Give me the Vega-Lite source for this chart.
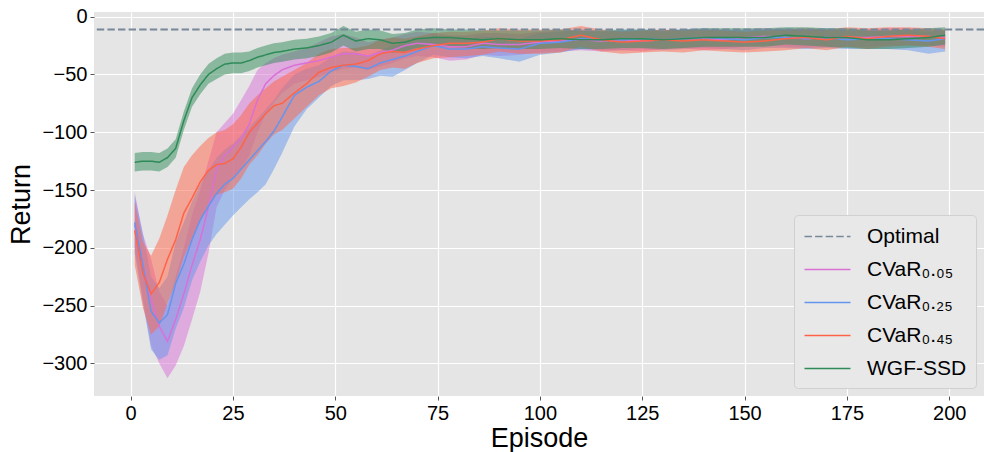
{
  "$schema": "https://vega.github.io/schema/vega-lite/v6.json",
  "width": 890,
  "height": 384,
  "autosize": {"type": "none"},
  "padding": {"left": 94, "top": 12, "right": 0, "bottom": 56},
  "background": "white",
  "config": {
    "view": {"fill": "#E5E5E5", "stroke": null},
    "axis": {
      "grid": true, "gridColor": "white", "gridWidth": 1.2, "domain": false,
      "tickColor": "#555555", "tickSize": 4, "tickWidth": 1,
      "labelFont": "Liberation Sans", "labelFontSize": 20, "labelColor": "#000000", "labelPadding": 3,
      "titleFont": "Liberation Sans", "titleFontSize": 27, "titleFontWeight": "normal", "titleColor": "#000000"
    },
    "legend": {"labelFont": "Liberation Sans"}
  },
  "datasets": {
    "curves": [
      {"s":"CVaR₀.₀₅","e":1,"m":-180,"lo":-200,"hi":-152},
      {"s":"CVaR₀.₀₅","e":3,"m":-215,"lo":-245,"hi":-188},
      {"s":"CVaR₀.₀₅","e":5,"m":-245,"lo":-285,"hi":-210},
      {"s":"CVaR₀.₀₅","e":7,"m":-268,"lo":-300,"hi":-238},
      {"s":"CVaR₀.₀₅","e":9,"m":-281,"lo":-313,"hi":-250},
      {"s":"CVaR₀.₀₅","e":11,"m":-262,"lo":-302,"hi":-225},
      {"s":"CVaR₀.₀₅","e":13,"m":-240,"lo":-285,"hi":-200},
      {"s":"CVaR₀.₀₅","e":15,"m":-215,"lo":-262,"hi":-172},
      {"s":"CVaR₀.₀₅","e":17,"m":-193,"lo":-238,"hi":-150},
      {"s":"CVaR₀.₀₅","e":19,"m":-165,"lo":-205,"hi":-125},
      {"s":"CVaR₀.₀₅","e":21,"m":-132,"lo":-165,"hi":-100},
      {"s":"CVaR₀.₀₅","e":23,"m":-120,"lo":-150,"hi":-92},
      {"s":"CVaR₀.₀₅","e":25,"m":-113,"lo":-140,"hi":-84},
      {"s":"CVaR₀.₀₅","e":27,"m":-105,"lo":-132,"hi":-72},
      {"s":"CVaR₀.₀₅","e":29,"m":-93,"lo":-120,"hi":-60},
      {"s":"CVaR₀.₀₅","e":31,"m":-72,"lo":-100,"hi":-46},
      {"s":"CVaR₀.₀₅","e":33,"m":-58,"lo":-84,"hi":-40},
      {"s":"CVaR₀.₀₅","e":35,"m":-51,"lo":-74,"hi":-36},
      {"s":"CVaR₀.₀₅","e":37,"m":-46,"lo":-66,"hi":-33},
      {"s":"CVaR₀.₀₅","e":40,"m":-42,"lo":-58,"hi":-30},
      {"s":"CVaR₀.₀₅","e":43,"m":-40,"lo":-55,"hi":-27},
      {"s":"CVaR₀.₀₅","e":46,"m":-38,"lo":-52,"hi":-22},
      {"s":"CVaR₀.₀₅","e":49,"m":-35,"lo":-48,"hi":-17},
      {"s":"CVaR₀.₀₅","e":52,"m":-32,"lo":-45,"hi":-15},
      {"s":"CVaR₀.₀₅","e":55,"m":-32,"lo":-44,"hi":-18},
      {"s":"CVaR₀.₀₅","e":58,"m":-34,"lo":-46,"hi":-22},
      {"s":"CVaR₀.₀₅","e":61,"m":-31,"lo":-43,"hi":-20},
      {"s":"CVaR₀.₀₅","e":64,"m":-29,"lo":-40,"hi":-18},
      {"s":"CVaR₀.₀₅","e":67,"m":-25,"lo":-36,"hi":-15},
      {"s":"CVaR₀.₀₅","e":70,"m":-23,"lo":-34,"hi":-13},
      {"s":"CVaR₀.₀₅","e":74,"m":-24,"lo":-35,"hi":-14},
      {"s":"CVaR₀.₀₅","e":78,"m":-26,"lo":-38,"hi":-16},
      {"s":"CVaR₀.₀₅","e":82,"m":-26,"lo":-37,"hi":-16},
      {"s":"CVaR₀.₀₅","e":86,"m":-23,"lo":-33,"hi":-14},
      {"s":"CVaR₀.₀₅","e":90,"m":-24,"lo":-34,"hi":-14},
      {"s":"CVaR₀.₀₅","e":95,"m":-24,"lo":-33,"hi":-15},
      {"s":"CVaR₀.₀₅","e":100,"m":-22,"lo":-31,"hi":-13},
      {"s":"CVaR₀.₀₅","e":105,"m":-21,"lo":-30,"hi":-12},
      {"s":"CVaR₀.₀₅","e":110,"m":-20,"lo":-29,"hi":-12},
      {"s":"CVaR₀.₀₅","e":115,"m":-21,"lo":-30,"hi":-13},
      {"s":"CVaR₀.₀₅","e":120,"m":-20,"lo":-29,"hi":-12},
      {"s":"CVaR₀.₀₅","e":125,"m":-21,"lo":-30,"hi":-12},
      {"s":"CVaR₀.₀₅","e":130,"m":-20,"lo":-28,"hi":-12},
      {"s":"CVaR₀.₀₅","e":135,"m":-19,"lo":-27,"hi":-11},
      {"s":"CVaR₀.₀₅","e":140,"m":-19,"lo":-29,"hi":-11},
      {"s":"CVaR₀.₀₅","e":145,"m":-20,"lo":-28,"hi":-12},
      {"s":"CVaR₀.₀₅","e":150,"m":-18,"lo":-26,"hi":-11},
      {"s":"CVaR₀.₀₅","e":155,"m":-17,"lo":-25,"hi":-10},
      {"s":"CVaR₀.₀₅","e":160,"m":-18,"lo":-26,"hi":-11},
      {"s":"CVaR₀.₀₅","e":165,"m":-19,"lo":-27,"hi":-11},
      {"s":"CVaR₀.₀₅","e":170,"m":-18,"lo":-26,"hi":-11},
      {"s":"CVaR₀.₀₅","e":175,"m":-18,"lo":-26,"hi":-11},
      {"s":"CVaR₀.₀₅","e":180,"m":-18,"lo":-26,"hi":-11},
      {"s":"CVaR₀.₀₅","e":185,"m":-17,"lo":-25,"hi":-10},
      {"s":"CVaR₀.₀₅","e":190,"m":-17,"lo":-25,"hi":-10},
      {"s":"CVaR₀.₀₅","e":195,"m":-17,"lo":-25,"hi":-11},
      {"s":"CVaR₀.₀₅","e":199,"m":-18,"lo":-26,"hi":-12},

      {"s":"CVaR₀.₂₅","e":1,"m":-178,"lo":-205,"hi":-155},
      {"s":"CVaR₀.₂₅","e":3,"m":-215,"lo":-248,"hi":-188},
      {"s":"CVaR₀.₂₅","e":5,"m":-255,"lo":-288,"hi":-225},
      {"s":"CVaR₀.₂₅","e":7,"m":-265,"lo":-297,"hi":-235},
      {"s":"CVaR₀.₂₅","e":9,"m":-258,"lo":-293,"hi":-225},
      {"s":"CVaR₀.₂₅","e":11,"m":-231,"lo":-270,"hi":-195},
      {"s":"CVaR₀.₂₅","e":13,"m":-214,"lo":-252,"hi":-178},
      {"s":"CVaR₀.₂₅","e":15,"m":-193,"lo":-228,"hi":-160},
      {"s":"CVaR₀.₂₅","e":17,"m":-176,"lo":-212,"hi":-145},
      {"s":"CVaR₀.₂₅","e":19,"m":-164,"lo":-198,"hi":-133},
      {"s":"CVaR₀.₂₅","e":21,"m":-153,"lo":-188,"hi":-122},
      {"s":"CVaR₀.₂₅","e":23,"m":-145,"lo":-180,"hi":-115},
      {"s":"CVaR₀.₂₅","e":25,"m":-140,"lo":-172,"hi":-110},
      {"s":"CVaR₀.₂₅","e":27,"m":-132,"lo":-165,"hi":-103},
      {"s":"CVaR₀.₂₅","e":29,"m":-124,"lo":-158,"hi":-96},
      {"s":"CVaR₀.₂₅","e":31,"m":-116,"lo":-152,"hi":-88},
      {"s":"CVaR₀.₂₅","e":33,"m":-108,"lo":-145,"hi":-80},
      {"s":"CVaR₀.₂₅","e":35,"m":-99,"lo":-132,"hi":-72},
      {"s":"CVaR₀.₂₅","e":37,"m":-87,"lo":-118,"hi":-62},
      {"s":"CVaR₀.₂₅","e":40,"m":-68,"lo":-95,"hi":-50},
      {"s":"CVaR₀.₂₅","e":43,"m":-61,"lo":-80,"hi":-45},
      {"s":"CVaR₀.₂₅","e":46,"m":-56,"lo":-70,"hi":-42},
      {"s":"CVaR₀.₂₅","e":49,"m":-47,"lo":-60,"hi":-35},
      {"s":"CVaR₀.₂₅","e":52,"m":-42,"lo":-55,"hi":-30},
      {"s":"CVaR₀.₂₅","e":55,"m":-43,"lo":-55,"hi":-31},
      {"s":"CVaR₀.₂₅","e":58,"m":-45,"lo":-54,"hi":-34},
      {"s":"CVaR₀.₂₅","e":61,"m":-40,"lo":-51,"hi":-29},
      {"s":"CVaR₀.₂₅","e":64,"m":-37,"lo":-52,"hi":-25},
      {"s":"CVaR₀.₂₅","e":67,"m":-34,"lo":-46,"hi":-23},
      {"s":"CVaR₀.₂₅","e":70,"m":-30,"lo":-40,"hi":-20},
      {"s":"CVaR₀.₂₅","e":74,"m":-25,"lo":-33,"hi":-16},
      {"s":"CVaR₀.₂₅","e":78,"m":-28,"lo":-35,"hi":-19},
      {"s":"CVaR₀.₂₅","e":82,"m":-28,"lo":-36,"hi":-19},
      {"s":"CVaR₀.₂₅","e":86,"m":-26,"lo":-34,"hi":-17},
      {"s":"CVaR₀.₂₅","e":90,"m":-27,"lo":-36,"hi":-18},
      {"s":"CVaR₀.₂₅","e":95,"m":-28,"lo":-39,"hi":-19},
      {"s":"CVaR₀.₂₅","e":100,"m":-23,"lo":-33,"hi":-14},
      {"s":"CVaR₀.₂₅","e":105,"m":-22,"lo":-31,"hi":-13},
      {"s":"CVaR₀.₂₅","e":110,"m":-19,"lo":-28,"hi":-11},
      {"s":"CVaR₀.₂₅","e":115,"m":-20,"lo":-29,"hi":-12},
      {"s":"CVaR₀.₂₅","e":120,"m":-20,"lo":-29,"hi":-12},
      {"s":"CVaR₀.₂₅","e":125,"m":-19,"lo":-28,"hi":-11},
      {"s":"CVaR₀.₂₅","e":130,"m":-20,"lo":-29,"hi":-12},
      {"s":"CVaR₀.₂₅","e":135,"m":-19,"lo":-28,"hi":-11},
      {"s":"CVaR₀.₂₅","e":140,"m":-18,"lo":-27,"hi":-10},
      {"s":"CVaR₀.₂₅","e":145,"m":-19,"lo":-28,"hi":-11},
      {"s":"CVaR₀.₂₅","e":150,"m":-20,"lo":-29,"hi":-12},
      {"s":"CVaR₀.₂₅","e":155,"m":-18,"lo":-27,"hi":-11},
      {"s":"CVaR₀.₂₅","e":160,"m":-18,"lo":-27,"hi":-10},
      {"s":"CVaR₀.₂₅","e":165,"m":-19,"lo":-28,"hi":-11},
      {"s":"CVaR₀.₂₅","e":170,"m":-18,"lo":-27,"hi":-10},
      {"s":"CVaR₀.₂₅","e":175,"m":-20,"lo":-28,"hi":-12},
      {"s":"CVaR₀.₂₅","e":180,"m":-19,"lo":-28,"hi":-11},
      {"s":"CVaR₀.₂₅","e":185,"m":-19,"lo":-28,"hi":-11},
      {"s":"CVaR₀.₂₅","e":190,"m":-20,"lo":-29,"hi":-12},
      {"s":"CVaR₀.₂₅","e":195,"m":-21,"lo":-32,"hi":-13},
      {"s":"CVaR₀.₂₅","e":199,"m":-19,"lo":-30,"hi":-12},

      {"s":"CVaR₀.₄₅","e":1,"m":-185,"lo":-215,"hi":-160},
      {"s":"CVaR₀.₄₅","e":3,"m":-222,"lo":-252,"hi":-195},
      {"s":"CVaR₀.₄₅","e":5,"m":-240,"lo":-275,"hi":-207},
      {"s":"CVaR₀.₄₅","e":7,"m":-230,"lo":-268,"hi":-192},
      {"s":"CVaR₀.₄₅","e":9,"m":-210,"lo":-248,"hi":-172},
      {"s":"CVaR₀.₄₅","e":11,"m":-193,"lo":-230,"hi":-150},
      {"s":"CVaR₀.₄₅","e":13,"m":-170,"lo":-208,"hi":-130},
      {"s":"CVaR₀.₄₅","e":15,"m":-157,"lo":-192,"hi":-120},
      {"s":"CVaR₀.₄₅","e":17,"m":-143,"lo":-177,"hi":-112},
      {"s":"CVaR₀.₄₅","e":19,"m":-133,"lo":-162,"hi":-105},
      {"s":"CVaR₀.₄₅","e":21,"m":-128,"lo":-154,"hi":-100},
      {"s":"CVaR₀.₄₅","e":23,"m":-127,"lo":-152,"hi":-98},
      {"s":"CVaR₀.₄₅","e":25,"m":-123,"lo":-149,"hi":-93},
      {"s":"CVaR₀.₄₅","e":27,"m":-113,"lo":-140,"hi":-85},
      {"s":"CVaR₀.₄₅","e":29,"m":-100,"lo":-128,"hi":-75},
      {"s":"CVaR₀.₄₅","e":31,"m":-92,"lo":-120,"hi":-68},
      {"s":"CVaR₀.₄₅","e":33,"m":-84,"lo":-110,"hi":-62},
      {"s":"CVaR₀.₄₅","e":35,"m":-77,"lo":-102,"hi":-56},
      {"s":"CVaR₀.₄₅","e":37,"m":-75,"lo":-98,"hi":-52},
      {"s":"CVaR₀.₄₅","e":40,"m":-66,"lo":-88,"hi":-46},
      {"s":"CVaR₀.₄₅","e":43,"m":-58,"lo":-78,"hi":-40},
      {"s":"CVaR₀.₄₅","e":46,"m":-48,"lo":-68,"hi":-32},
      {"s":"CVaR₀.₄₅","e":49,"m":-44,"lo":-62,"hi":-28},
      {"s":"CVaR₀.₄₅","e":52,"m":-42,"lo":-60,"hi":-27},
      {"s":"CVaR₀.₄₅","e":55,"m":-41,"lo":-57,"hi":-27},
      {"s":"CVaR₀.₄₅","e":58,"m":-38,"lo":-52,"hi":-25},
      {"s":"CVaR₀.₄₅","e":61,"m":-32,"lo":-46,"hi":-20},
      {"s":"CVaR₀.₄₅","e":64,"m":-30,"lo":-44,"hi":-18},
      {"s":"CVaR₀.₄₅","e":67,"m":-31,"lo":-45,"hi":-19},
      {"s":"CVaR₀.₄₅","e":70,"m":-28,"lo":-40,"hi":-17},
      {"s":"CVaR₀.₄₅","e":74,"m":-25,"lo":-36,"hi":-14},
      {"s":"CVaR₀.₄₅","e":78,"m":-23,"lo":-35,"hi":-13},
      {"s":"CVaR₀.₄₅","e":82,"m":-23,"lo":-34,"hi":-13},
      {"s":"CVaR₀.₄₅","e":86,"m":-22,"lo":-33,"hi":-12},
      {"s":"CVaR₀.₄₅","e":90,"m":-19,"lo":-30,"hi":-10},
      {"s":"CVaR₀.₄₅","e":95,"m":-21,"lo":-32,"hi":-11},
      {"s":"CVaR₀.₄₅","e":100,"m":-21,"lo":-32,"hi":-11},
      {"s":"CVaR₀.₄₅","e":105,"m":-20,"lo":-31,"hi":-11},
      {"s":"CVaR₀.₄₅","e":110,"m":-16,"lo":-26,"hi":-8},
      {"s":"CVaR₀.₄₅","e":115,"m":-20,"lo":-30,"hi":-11},
      {"s":"CVaR₀.₄₅","e":120,"m":-22,"lo":-32,"hi":-13},
      {"s":"CVaR₀.₄₅","e":125,"m":-21,"lo":-31,"hi":-12},
      {"s":"CVaR₀.₄₅","e":130,"m":-20,"lo":-30,"hi":-11},
      {"s":"CVaR₀.₄₅","e":135,"m":-21,"lo":-31,"hi":-12},
      {"s":"CVaR₀.₄₅","e":140,"m":-20,"lo":-29,"hi":-11},
      {"s":"CVaR₀.₄₅","e":145,"m":-21,"lo":-30,"hi":-12},
      {"s":"CVaR₀.₄₅","e":150,"m":-22,"lo":-31,"hi":-13},
      {"s":"CVaR₀.₄₅","e":155,"m":-21,"lo":-30,"hi":-12},
      {"s":"CVaR₀.₄₅","e":160,"m":-19,"lo":-29,"hi":-11},
      {"s":"CVaR₀.₄₅","e":165,"m":-18,"lo":-27,"hi":-10},
      {"s":"CVaR₀.₄₅","e":170,"m":-20,"lo":-29,"hi":-11},
      {"s":"CVaR₀.₄₅","e":175,"m":-17,"lo":-26,"hi":-9},
      {"s":"CVaR₀.₄₅","e":180,"m":-19,"lo":-28,"hi":-10},
      {"s":"CVaR₀.₄₅","e":185,"m":-17,"lo":-26,"hi":-9},
      {"s":"CVaR₀.₄₅","e":190,"m":-16,"lo":-25,"hi":-9},
      {"s":"CVaR₀.₄₅","e":195,"m":-17,"lo":-26,"hi":-10},
      {"s":"CVaR₀.₄₅","e":199,"m":-19,"lo":-28,"hi":-11},

      {"s":"WGF-SSD","e":1,"m":-126,"lo":-134,"hi":-118},
      {"s":"WGF-SSD","e":3,"m":-125,"lo":-133,"hi":-117},
      {"s":"WGF-SSD","e":5,"m":-125,"lo":-133,"hi":-117},
      {"s":"WGF-SSD","e":7,"m":-126,"lo":-134,"hi":-118},
      {"s":"WGF-SSD","e":9,"m":-122,"lo":-130,"hi":-114},
      {"s":"WGF-SSD","e":11,"m":-114,"lo":-122,"hi":-106},
      {"s":"WGF-SSD","e":13,"m":-90,"lo":-98,"hi":-82},
      {"s":"WGF-SSD","e":15,"m":-70,"lo":-78,"hi":-62},
      {"s":"WGF-SSD","e":17,"m":-59,"lo":-67,"hi":-50},
      {"s":"WGF-SSD","e":19,"m":-50,"lo":-58,"hi":-41},
      {"s":"WGF-SSD","e":21,"m":-45,"lo":-54,"hi":-36},
      {"s":"WGF-SSD","e":23,"m":-41,"lo":-50,"hi":-32},
      {"s":"WGF-SSD","e":25,"m":-40,"lo":-49,"hi":-31},
      {"s":"WGF-SSD","e":27,"m":-40,"lo":-49,"hi":-31},
      {"s":"WGF-SSD","e":29,"m":-38,"lo":-47,"hi":-30},
      {"s":"WGF-SSD","e":31,"m":-35,"lo":-44,"hi":-27},
      {"s":"WGF-SSD","e":33,"m":-33,"lo":-42,"hi":-25},
      {"s":"WGF-SSD","e":35,"m":-31,"lo":-40,"hi":-23},
      {"s":"WGF-SSD","e":37,"m":-30,"lo":-39,"hi":-22},
      {"s":"WGF-SSD","e":40,"m":-28,"lo":-37,"hi":-20},
      {"s":"WGF-SSD","e":43,"m":-27,"lo":-36,"hi":-19},
      {"s":"WGF-SSD","e":46,"m":-25,"lo":-34,"hi":-17},
      {"s":"WGF-SSD","e":49,"m":-22,"lo":-31,"hi":-14},
      {"s":"WGF-SSD","e":52,"m":-16,"lo":-25,"hi":-8},
      {"s":"WGF-SSD","e":55,"m":-21,"lo":-30,"hi":-13},
      {"s":"WGF-SSD","e":58,"m":-19,"lo":-28,"hi":-11},
      {"s":"WGF-SSD","e":61,"m":-20,"lo":-28,"hi":-12},
      {"s":"WGF-SSD","e":64,"m":-23,"lo":-31,"hi":-15},
      {"s":"WGF-SSD","e":67,"m":-22,"lo":-30,"hi":-14},
      {"s":"WGF-SSD","e":70,"m":-19,"lo":-27,"hi":-11},
      {"s":"WGF-SSD","e":74,"m":-18,"lo":-26,"hi":-10},
      {"s":"WGF-SSD","e":78,"m":-18,"lo":-26,"hi":-11},
      {"s":"WGF-SSD","e":82,"m":-19,"lo":-27,"hi":-11},
      {"s":"WGF-SSD","e":86,"m":-20,"lo":-28,"hi":-12},
      {"s":"WGF-SSD","e":90,"m":-19,"lo":-27,"hi":-12},
      {"s":"WGF-SSD","e":95,"m":-20,"lo":-28,"hi":-12},
      {"s":"WGF-SSD","e":100,"m":-20,"lo":-28,"hi":-12},
      {"s":"WGF-SSD","e":105,"m":-19,"lo":-27,"hi":-11},
      {"s":"WGF-SSD","e":110,"m":-20,"lo":-28,"hi":-12},
      {"s":"WGF-SSD","e":115,"m":-20,"lo":-28,"hi":-12},
      {"s":"WGF-SSD","e":120,"m":-19,"lo":-27,"hi":-11},
      {"s":"WGF-SSD","e":125,"m":-19,"lo":-27,"hi":-11},
      {"s":"WGF-SSD","e":130,"m":-20,"lo":-28,"hi":-12},
      {"s":"WGF-SSD","e":135,"m":-19,"lo":-27,"hi":-11},
      {"s":"WGF-SSD","e":140,"m":-18,"lo":-26,"hi":-10},
      {"s":"WGF-SSD","e":145,"m":-18,"lo":-26,"hi":-10},
      {"s":"WGF-SSD","e":150,"m":-18,"lo":-26,"hi":-10},
      {"s":"WGF-SSD","e":155,"m":-18,"lo":-26,"hi":-10},
      {"s":"WGF-SSD","e":160,"m":-16,"lo":-24,"hi":-9},
      {"s":"WGF-SSD","e":165,"m":-17,"lo":-25,"hi":-9},
      {"s":"WGF-SSD","e":170,"m":-18,"lo":-26,"hi":-10},
      {"s":"WGF-SSD","e":175,"m":-18,"lo":-27,"hi":-10},
      {"s":"WGF-SSD","e":180,"m":-20,"lo":-28,"hi":-12},
      {"s":"WGF-SSD","e":185,"m":-20,"lo":-28,"hi":-12},
      {"s":"WGF-SSD","e":190,"m":-19,"lo":-27,"hi":-11},
      {"s":"WGF-SSD","e":195,"m":-18,"lo":-26,"hi":-10},
      {"s":"WGF-SSD","e":199,"m":-16,"lo":-24,"hi":-9}
    ],
    "optimal": [{"s": "Optimal", "v": -11}]
  },
  "encoding": {
    "color": {
      "field": "s", "type": "nominal",
      "scale": {
        "domain": ["Optimal", "CVaR₀.₀₅", "CVaR₀.₂₅", "CVaR₀.₄₅", "WGF-SSD"],
        "range": ["#778899", "#DA70D6", "#6495ED", "#FF6347", "#2E8B57"]
      },
      "legend": {
        "title": null, "orient": "bottom-right", "offset": 8,
        "symbolType": "M-2,0H2", "symbolSize": 529, "symbolStrokeWidth": 1.5, "symbolOpacity": 1,
        "symbolOffset": 12,
        "labelFontSize": 21, "labelColor": "#000000", "labelOffset": 27, "rowPadding": 10,
        "padding": 9, "fillColor": "#E8E8E8", "strokeColor": "#D0D0D0", "cornerRadius": 4
      }
    },
    "strokeDash": {
      "field": "s", "type": "nominal",
      "scale": {
        "domain": ["Optimal", "CVaR₀.₀₅", "CVaR₀.₂₅", "CVaR₀.₄₅", "WGF-SSD"],
        "range": [[7.4, 3.2], [1, 0], [1, 0], [1, 0], [1, 0]]
      },
      "legend": {
        "title": null, "orient": "bottom-right", "offset": 8,
        "symbolType": "M-2,0H2", "symbolSize": 529, "symbolStrokeWidth": 1.5, "symbolOpacity": 1,
        "symbolOffset": 12,
        "labelFontSize": 21, "labelColor": "#000000", "labelOffset": 27, "rowPadding": 10,
        "padding": 9, "fillColor": "#E8E8E8", "strokeColor": "#D0D0D0", "cornerRadius": 4
      }
    }
  },
  "layer": [
    {
      "data": {"name": "curves"},
      "mark": {"type": "area", "opacity": 0.5, "clip": true},
      "encoding": {
        "x": {
          "field": "e", "type": "quantitative", "title": "Episode",
          "scale": {"domain": [-8.95, 208.5], "nice": false, "zero": false},
          "axis": {"values": [0, 25, 50, 75, 100, 125, 150, 175, 200], "titlePadding": 2}
        },
        "y": {
          "field": "lo", "type": "quantitative", "title": "Return",
          "scale": {"domain": [-328.3, 4.1], "nice": false, "zero": false},
          "axis": {"values": [-300, -250, -200, -150, -100, -50, 0], "titlePadding": 6}
        },
        "y2": {"field": "hi"}
      }
    },
    {
      "data": {"name": "curves"},
      "mark": {"type": "line", "strokeWidth": 1.5, "clip": true},
      "encoding": {
        "x": {"field": "e", "type": "quantitative", "title": "Episode"},
        "y": {"field": "m", "type": "quantitative", "title": "Return"}
      }
    },
    {
      "data": {"name": "optimal"},
      "mark": {"type": "rule", "strokeWidth": 2},
      "encoding": {
        "y": {"field": "v", "type": "quantitative", "title": "Return"}
      }
    }
  ]
}
